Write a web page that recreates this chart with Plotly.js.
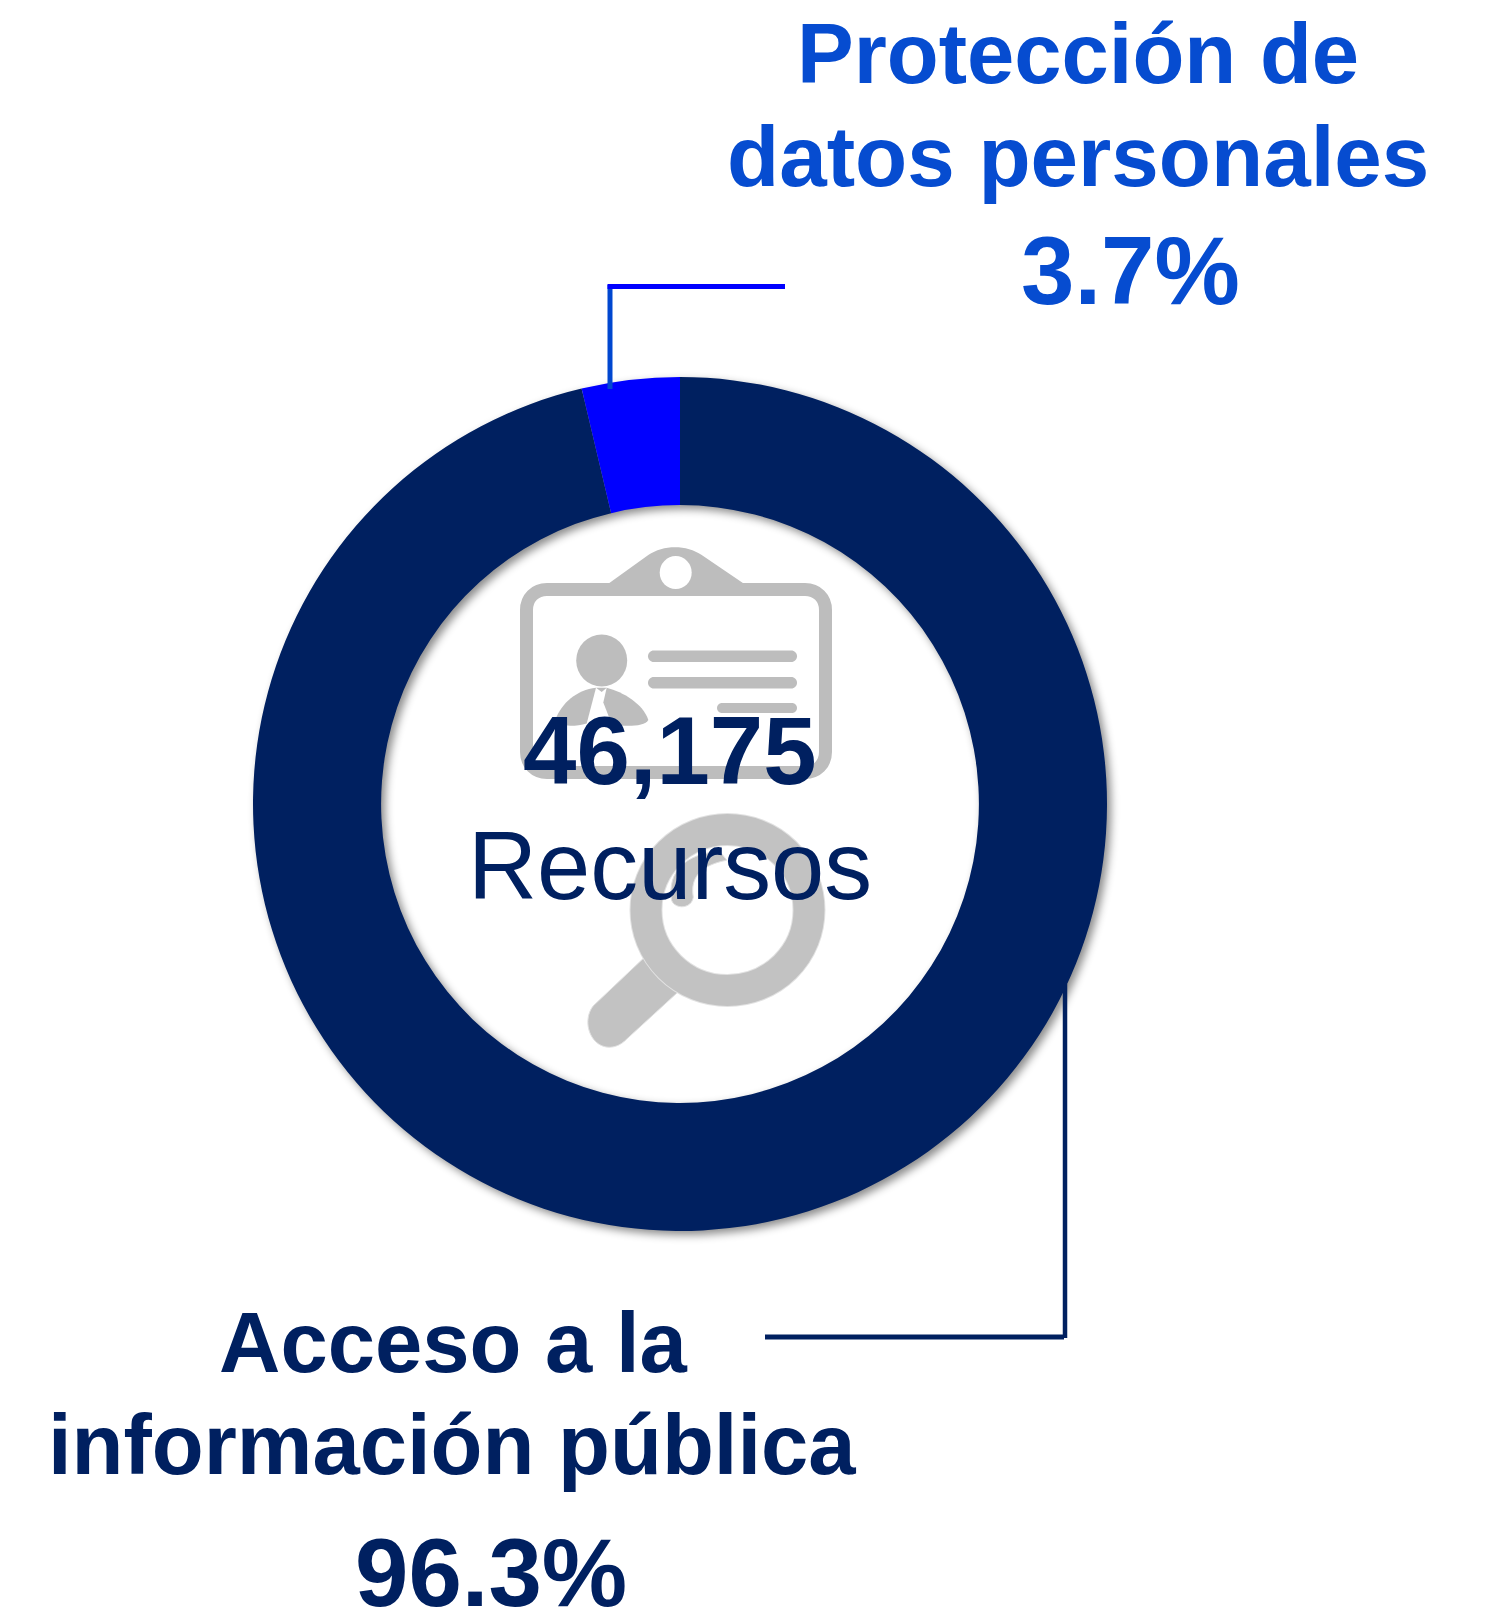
<!DOCTYPE html>
<html><head><meta charset="utf-8">
<script src="https://cdn.plot.ly/plotly-3.0.1.min.js"></script>
<style>
html,body{margin:0;padding:0;background:#fff;overflow:hidden}
#chart{width:1487px;height:1612px}
.pielayer .trace{filter:drop-shadow(4px 4px 4px rgba(0,0,0,.45))}
</style></head><body><div id="chart"></div>
<script>
const categories = ['Acceso a la información pública', 'Protección de datos personales'];
const sharePct = [96.3, 3.7];
const sliceColors = ['#002060', '#0000FF'];
const totalValue = '46,175';
const totalLabel = 'Recursos';
const W = 1487, H = 1612, NAVY = '#002060', ACCENT = '#064CD0', GREY = '#BDBDBD';
const cx = 680, cy = 804, R = 427;
const X = p => p / W, Y = p => 1 - p / H;
const pp = s => { let i = 0; return s.replace(/-?\d+(\.\d+)?/g, n => (i++ % 2 === 0 ? X(+n) : Y(+n)).toFixed(5)); };
const pathShape = (d, fill, lineColor, lw) => ({type:'path', xref:'paper', yref:'paper', path:pp(d), fillcolor:fill||'rgba(0,0,0,0)', line:{color:lineColor||'rgba(0,0,0,0)', width:lw||0}});
const ell = (x, y, rx, ry, fill, lineColor, lw) => ({type:'circle', xref:'paper', yref:'paper', x0:X(x-rx), x1:X(x+rx), y0:Y(y+ry), y1:Y(y-ry), fillcolor:fill||'rgba(0,0,0,0)', line:{color:lineColor||'rgba(0,0,0,0)', width:lw||0}});
const zp = s => { let i = 0; return s.replace(/-?\d+(\.\d+)?/g, n => { const v = +n; return (i++ % 2 === 0 ? (480 + v / 3) : (520 + v / 2.851)).toFixed(1); }); };
const pill = (x0, x1, y0, y1) => { const r = (y1 - y0) / 2, k = r * .55, m = (y0 + y1) / 2;
  return `M ${x0+r} ${y0} L ${x1-r} ${y0} C ${x1-r+k} ${y0} ${x1} ${m-k} ${x1} ${m} C ${x1} ${m+k} ${x1-r+k} ${y1} ${x1-r} ${y1} L ${x0+r} ${y1} C ${x0+r-k} ${y1} ${x0} ${m+k} ${x0} ${m} C ${x0} ${m-k} ${x0+r-k} ${y0} ${x0+r} ${y0} Z`; };
const shapes = [
  pathShape('M 547 589.5 L 805 589.5 C 817 589.5 825.5 598 825.5 610 L 825.5 752 C 825.5 764 817 772.5 805 772.5 L 547 772.5 C 535 772.5 526.5 764 526.5 752 L 526.5 610 C 526.5 598 535 589.5 547 589.5 Z', null, GREY, 13),
  pathShape(zp('M 385 182 L 505 100 C 550 70 620 70 665 100 L 792 182 Z'), GREY),
  ell(675.7, 572.6, 16, 16.5, '#FFFFFF'),
  ell(601.7, 660.5, 25.5, 26, GREY),
  pathShape(zp('M 225 572 C 245 520 290 485 348 478 L 320 580 C 285 590 235 590 225 572 Z'), GREY),
  pathShape(zp('M 380 478 C 430 490 490 525 505 570 C 495 590 430 590 395 582 L 370 520 Z'), GREY),
  pathShape(zp('M 348 478 L 380 478 L 365 490 Z'), GREY),
  pathShape(pill(648, 797, 650.5, 662), GREY),
  pathShape(pill(648, 797, 677, 688.5), GREY),
  pathShape(pill(717, 797, 703, 713), GREY),
  pathShape(zp('M 490 1250 L 340 1385 C 315 1415 320 1460 345 1485 C 370 1510 410 1510 440 1480 L 595 1345 Z'), '#C2C2C2', '#E2E2E2', 1),
  ell(727.5, 910, 81.5, 80.5, null, '#E2E2E2', 33),
  ell(727.5, 910, 81.5, 80.5, null, '#C2C2C2', 31),
  pathShape(zp('M 720 945 C 620 950 560 1000 575 1085 C 585 1110 635 1110 640 1075 C 630 1020 660 985 740 970 Z'), '#C2C2C2', '#E2E2E2', 1),
  pathShape('M 610 389 L 610 285', null, '#0047D0', 5),
  pathShape('M 607.5 286.5 L 785 286.5', null, '#0000FF', 5),
  pathShape('M 1065 984 L 1065 1338', null, NAVY, 4.5),
  pathShape('M 765 1337 L 1064 1337', null, NAVY, 5)
];
const txt = (text, x, baseY, size, color, bold) => ({
  text: bold ? `<b>${text}</b>` : text, xref:'paper', yref:'paper', x:X(x), y:Y(baseY - size * .345),
  xanchor:'center', yanchor:'middle', showarrow:false,
  font:{family:'"Liberation Sans", Arial, sans-serif', size, color}
});
const annotations = [
  txt('Protección de', 1078, 83, 85, ACCENT, true),
  txt('datos personales', 1077.5, 186, 85.4, ACCENT, true),
  txt('3.7%', 1130, 303.5, 96, ACCENT, true),
  txt(totalValue, 670, 784, 96, NAVY, true),
  txt(totalLabel, 670, 899, 95.7, NAVY, false),
  txt('Acceso a la', 453, 1372, 85, NAVY, true),
  txt('información pública', 452, 1474, 85, NAVY, true),
  txt('96.3%', 491, 1606, 96, NAVY, true)
];
Plotly.newPlot('chart', [{
  type:'pie', labels:categories, values:sharePct, hole:.70, sort:false, direction:'clockwise', rotation:0,
  marker:{colors:sliceColors, line:{width:0}}, textinfo:'none', hoverinfo:'label+percent',
  domain:{x:[X(cx-R), X(cx+R)], y:[Y(cy+R), Y(cy-R)]}
}], {
  width:W, height:H, margin:{l:0,r:0,t:0,b:0,pad:0}, showlegend:false,
  paper_bgcolor:'#FFFFFF', plot_bgcolor:'#FFFFFF', shapes, annotations
}, {displayModeBar:false});
</script></body></html>
